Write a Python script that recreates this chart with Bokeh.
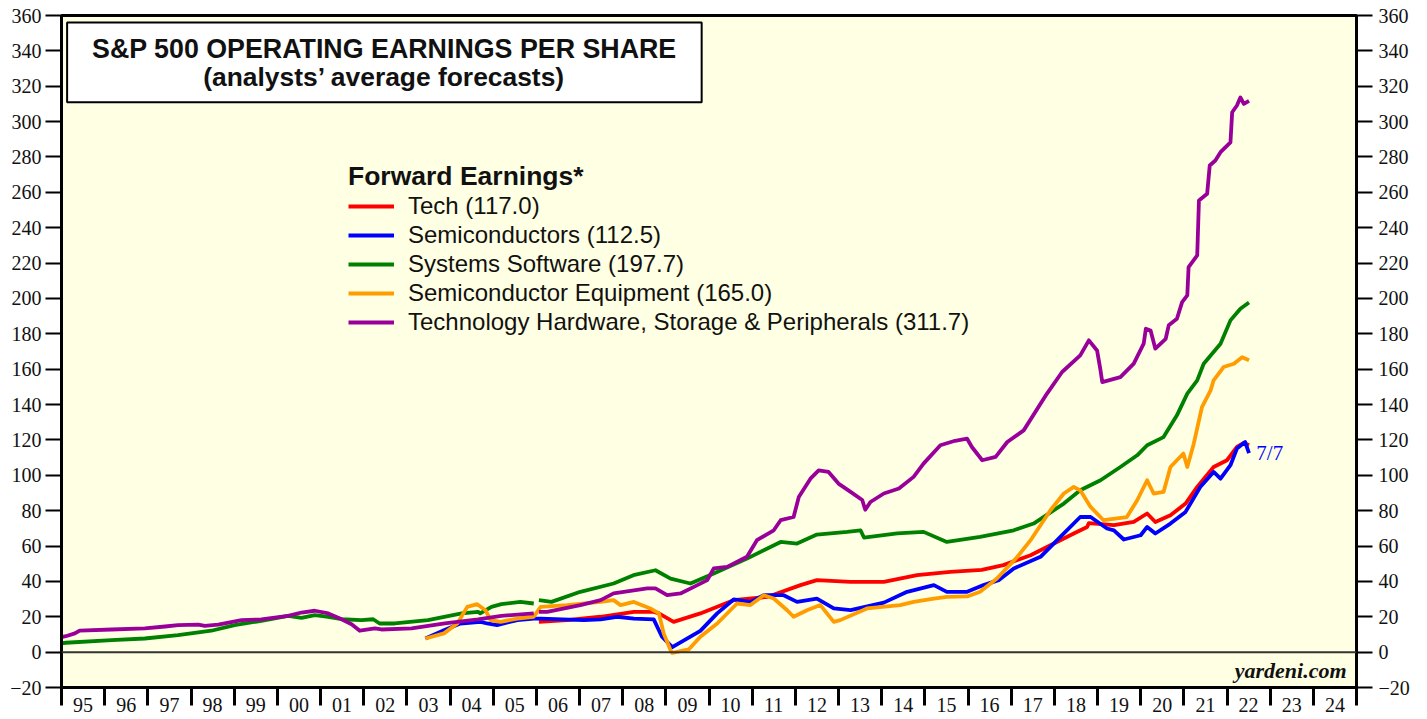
from bokeh.plotting import figure
from bokeh.models import (Range1d, LinearAxis, FixedTicker, Span, BoxAnnotation,
                          Label, Legend, LegendItem)
from bokeh.embed import file_html
from bokeh.resources import INLINE

nan = float("nan")

# ---------------- data ----------------
year_labels = ["95", "96", "97", "98", "99", "00", "01", "02", "03", "04", "05", "06",
               "07", "08", "09", "10", "11", "12", "13", "14", "15", "16", "17", "18",
               "19", "20", "21", "22", "23", "24"]
y_ticks = [-20, 0, 20, 40, 60, 80, 100, 120, 140, 160, 180, 200, 220, 240, 260, 280,
           300, 320, 340, 360]

hw_x = [1995.00, 1995.10, 1995.31, 1995.42, 1996.16, 1996.93, 1997.40, 1997.70, 1998.17,
        1998.32, 1998.63, 1999.17, 1999.63, 2000.25, 2000.56, 2000.87, 2001.18, 2001.49,
        2001.72, 2001.91, 2002.26, 2002.41, 2003.11, 2003.88, 2004.65, 2005.19, 2005.94,
        nan, 2006.06, 2006.25, 2007.02, 2007.49, 2007.79, 2008.57, 2008.76, 2009.03,
        2009.34, 2009.65, 2009.96, 2010.11, 2010.42, 2010.88, 2011.11, 2011.50, 2011.66,
        2011.96, 2012.08, 2012.35, 2012.54, 2012.77, 2013.00, 2013.28, 2013.55, 2013.62,
        2013.74, 2014.05, 2014.40, 2014.74, 2014.97, 2015.36, 2015.70, 2015.98, 2016.09,
        2016.33, 2016.64, 2016.91, 2017.29, 2017.83, 2018.18, 2018.60, 2018.80, 2018.99,
        2019.07, 2019.11, 2019.53, 2019.84, 2020.07, 2020.12, 2020.23, 2020.34, 2020.58,
        2020.65, 2020.84, 2020.96, 2021.08, 2021.11, 2021.31, 2021.35, 2021.54, 2021.60,
        2021.73, 2021.85, 2022.08, 2022.12, 2022.23, 2022.31, 2022.39, 2022.51]
hw_y = [8.5, 9.0, 10.6, 12.2, 12.8, 13.4, 14.5, 15.3, 15.6,
        14.9, 15.6, 18.1, 18.5, 20.5, 22.4, 23.4, 21.9, 18.6,
        15.8, 12.1, 13.4, 12.8, 13.4, 16.2, 18.5, 20.5, 21.9,
        nan, 22.8, 22.8, 26.6, 29.4, 33.2, 36.0, 36.0, 32.2,
        33.2, 36.9, 40.7, 47.3, 48.2, 53.9, 63.3, 68.9, 74.6,
        76.4, 87.7, 98.1, 102.8, 101.9, 95.3, 90.6, 86.0, 80.5,
        84.9, 89.7, 92.5, 99.1, 106.6, 117.0, 119.5, 120.7, 116.0,
        108.5, 110.4, 118.8, 125.4, 146.2, 158.4, 167.8, 176.3, 170.6,
        159.3, 152.7, 155.5, 163.1, 174.4, 182.9, 181.9, 171.6, 177.2,
        184.8, 188.5, 197.9, 201.7, 217.7, 224.3, 255.4, 259.2, 275.2,
        278.0, 282.7, 288.3, 305.3, 309.1, 313.7, 310.0, 311.7]

sw_x = [1995.00, 1995.10, 1996.16, 1996.93, 1997.70, 1998.47, 1999.01, 1999.63, 2000.25,
        2000.56, 2000.87, 2001.18, 2001.49, 2001.95, 2002.22, 2002.37, 2002.72, 2003.49,
        2004.27, 2004.65, 2004.70, 2004.96, 2005.19, 2005.63, 2005.94, nan, 2006.06,
        2006.35, 2007.02, 2007.79, 2008.25, 2008.76, 2009.11, 2009.57, 2010.11, 2010.88,
        2011.66, 2012.04, 2012.50, 2013.20, 2013.51, 2013.59, 2014.36, 2014.97, 2015.51,
        2016.28, 2017.06, 2017.52, 2018.22, 2018.60, 2019.07, 2019.53, 2019.92, 2020.15,
        2020.53, 2020.84, 2021.08, 2021.31, 2021.46, 2021.85, 2022.08, 2022.31, 2022.51]
sw_y = [5.0, 5.3, 6.8, 7.7, 9.6, 12.1, 15.3, 17.7, 20.5,
        19.4, 20.9, 20.0, 18.6, 18.1, 18.6, 16.2, 16.2, 18.1,
        21.9, 22.8, 21.9, 25.6, 27.1, 28.4, 27.5, nan, 29.4,
        28.4, 34.1, 38.8, 43.5, 46.3, 41.6, 38.8, 44.5, 52.9,
        62.3, 61.4, 66.5, 68.0, 68.9, 64.8, 67.1, 68.0, 62.3,
        65.2, 68.9, 72.7, 84.0, 91.5, 97.2, 104.7, 111.3, 117.0,
        121.6, 133.9, 146.2, 153.7, 163.1, 174.4, 187.6, 194.2, 197.7]

eq_x = [2003.43, 2003.86, 2004.17, 2004.40, 2004.63, 2004.82, 2004.94, 2005.17, 2005.56,
        2005.94, 2006.10, 2006.71, 2007.49, 2007.79, 2007.95, 2008.26, 2008.64, 2008.84,
        2008.95, 2009.11, 2009.15, 2009.53, 2009.80, 2010.19, 2010.65, 2010.96, 2011.27,
        2011.50, 2011.81, 2011.96, 2012.27, 2012.58, 2012.89, 2013.04, 2013.66, 2014.43,
        2014.74, 2015.21, 2015.51, 2015.98, 2016.28, 2016.67, 2017.14, 2017.45, 2017.91,
        2018.22, 2018.45, 2018.60, 2018.84, 2019.14, 2019.68, 2019.92, 2020.15, 2020.30,
        2020.53, 2020.69, 2020.99, 2021.08, 2021.23, 2021.42, 2021.62, 2021.69, 2021.92,
        2022.16, 2022.35, 2022.51]
eq_y = [7.7, 10.6, 16.2, 25.6, 27.1, 23.7, 18.1, 17.1, 19.0,
        20.0, 25.6, 26.6, 28.4, 29.4, 26.6, 28.4, 24.7, 21.9,
        10.6, 1.1, -0.4, 1.5, 8.7, 16.2, 27.5, 26.6, 32.2,
        30.3, 23.7, 20.0, 23.7, 26.6, 17.1, 18.1, 24.7, 26.6,
        28.4, 30.3, 31.2, 31.5, 34.1, 41.6, 53.8, 63.3, 80.2,
        89.7, 93.4, 91.5, 82.1, 74.6, 76.4, 85.9, 97.2, 89.7,
        90.6, 104.7, 112.3, 104.7, 117.9, 138.6, 148.0, 153.7, 161.2,
        163.1, 166.8, 165.0]

tech_x = [2006.06, 2006.71, 2007.49, 2008.26, 2008.72, 2008.84, 2009.18, 2009.80, 2010.57,
          2011.35, 2012.12, 2012.50, 2013.28, 2014.05, 2014.82, 2015.59, 2016.32, 2016.82,
          2017.45, 2017.99, 2018.45, 2018.76, 2018.80, 2019.38, 2019.84, 2020.15, 2020.34,
          2020.69, 2021.04, 2021.31, 2021.69, 2022.00, 2022.23, 2022.39, 2022.51]
tech_y = [17.1, 18.1, 20.0, 22.8, 22.8, 21.9, 17.1, 21.9, 29.4,
          31.2, 37.9, 40.7, 39.7, 39.7, 43.5, 45.4, 46.5, 49.2,
          54.8, 61.4, 67.1, 70.8, 73.0, 71.8, 73.6, 78.4, 73.6,
          77.4, 84.0, 93.4, 104.7, 108.5, 116.0, 118.3, 117.0]

semi_x = [2003.43, 2003.86, 2004.24, 2004.71, 2004.86, 2005.09, 2005.56, 2005.94, 2006.10,
          2007.10, 2007.49, 2007.87, 2008.26, 2008.72, 2008.91, 2009.15, 2009.80, 2010.19,
          2010.57, 2010.96, 2011.27, 2011.73, 2012.04, 2012.50, 2012.89, 2013.28, 2014.05,
          2014.59, 2015.21, 2015.51, 2015.98, 2016.36, 2016.71, 2017.06, 2017.68, 2018.14,
          2018.60, 2018.84, 2019.22, 2019.38, 2019.61, 2020.00, 2020.15, 2020.34, 2020.69,
          2021.04, 2021.38, 2021.69, 2021.85, 2022.08, 2022.23, 2022.42, 2022.51]
semi_y = [7.7, 12.4, 16.2, 17.1, 16.2, 15.3, 18.1, 19.0, 19.0,
          18.1, 18.5, 20.0, 19.0, 18.5, 8.7, 2.8, 12.0, 21.9,
          29.8, 28.4, 32.2, 32.2, 28.4, 30.3, 24.7, 23.7, 28.0,
          34.1, 37.9, 34.1, 34.1, 37.9, 40.7, 47.3, 53.9, 65.2,
          76.4, 76.4, 69.9, 68.9, 63.7, 66.1, 70.8, 67.1, 72.7,
          79.3, 93.4, 101.9, 98.1, 105.7, 115.1, 118.8, 112.5]

series_names = ["Tech (117.0)", "Semiconductors (112.5)", "Systems Software (197.7)",
                "Semiconductor Equipment (165.0)",
                "Technology Hardware, Storage & Peripherals (311.7)"]
series_colors = ["#FF0000", "#0000FF", "#008000", "#FF9C00", "#990099"]

# ---------------- figure ----------------
p = figure(width=1424, height=719, x_range=Range1d(1995, 2025), y_range=Range1d(-20, 360),
           output_backend="svg", toolbar_location=None,
           x_axis_location=None, y_axis_location=None,
           min_border_left=61, min_border_right=68, min_border_top=15, min_border_bottom=32)
p.background_fill_color = "#FFFFE3"
p.border_fill_color = "white"
p.outline_line_color = "black"
p.outline_line_width = 3
p.grid.visible = False

for loc, standoff in (("left", 4), ("right", 6)):
    ax = LinearAxis(ticker=FixedTicker(ticks=y_ticks, minor_ticks=[]),
                    major_tick_out=16, major_tick_in=0, minor_tick_out=0, minor_tick_in=0,
                    major_tick_line_width=2, major_tick_line_color="black",
                    axis_line_width=3, axis_line_color="black",
                    major_label_text_font="Liberation Serif",
                    major_label_text_font_size="20px",
                    major_label_text_color="#111111",
                    major_label_standoff=standoff)
    p.add_layout(ax, loc)

mids = [1995.5 + i for i in range(len(year_labels))]
bounds = [1995 + i for i in range(len(year_labels) + 1)]
xax = LinearAxis(ticker=FixedTicker(ticks=mids, minor_ticks=bounds),
                 major_label_overrides={m: lab for m, lab in zip(mids, year_labels)},
                 major_tick_out=0, major_tick_in=0,
                 minor_tick_out=18, minor_tick_in=0, minor_tick_line_width=3,
                 minor_tick_line_color="black",
                 axis_line_width=3, axis_line_color="black",
                 major_label_text_font="Liberation Serif",
                 major_label_text_font_size="20px",
                 major_label_text_color="#111111",
                 major_label_standoff=-8)
p.add_layout(xax, "below")

p.add_layout(Span(location=0, dimension="width", line_color="#333333", line_width=2))

renderers = []
for xs, ys, col in [(tech_x, tech_y, series_colors[0]), (semi_x, semi_y, series_colors[1]),
                    (sw_x, sw_y, series_colors[2]), (eq_x, eq_y, series_colors[3]),
                    (hw_x, hw_y, series_colors[4])]:
    r = p.line(xs, ys, line_color=col, line_width=3.8, line_join="round")
    renderers.append(r)

legend = Legend(items=[LegendItem(label=n, renderers=[r]) for n, r in zip(series_names, renderers)],
                location=(287, 351),
                title="Forward Earnings*",
                title_text_font="Liberation Sans", title_text_font_style="bold",
                title_text_font_size="26.5px", title_text_color="#111111",
                title_standoff=-3,
                label_text_font="Liberation Sans", label_text_font_size="24px",
                label_text_color="#111111",
                glyph_width=46, glyph_height=20, label_height=20, label_standoff=14,
                spacing=1, padding=0, margin=0,
                border_line_color=None, background_fill_alpha=0)
p.add_layout(legend, "center")

# title box
p.add_layout(BoxAnnotation(left=1995.13, right=2009.83, top=356.1, bottom=310.9,
                           fill_color="white", fill_alpha=1.0,
                           line_color="black", line_alpha=1.0, line_width=2))
p.add_layout(Label(x=2002.48, y=341.3, text="S&P 500 OPERATING EARNINGS PER SHARE",
                   text_align="center", text_baseline="middle",
                   text_font="Liberation Sans", text_font_style="bold",
                   text_font_size="26.8px", text_color="#111111"))
p.add_layout(Label(x=2002.48, y=325.4, text="(analysts’ average forecasts)",
                   text_align="center", text_baseline="middle",
                   text_font="Liberation Sans", text_font_style="bold",
                   text_font_size="26.4px", text_color="#111111"))

p.add_layout(Label(x=2024.77, y=-10.2, text="yardeni.com",
                   text_align="right", text_baseline="middle",
                   text_font="Liberation Serif", text_font_style="bold italic",
                   text_font_size="22px", text_color="#111111"))
p.add_layout(Label(x=2022.68, y=112.5, text="7/7",
                   text_align="left", text_baseline="middle",
                   text_font="Liberation Serif", text_font_size="21px",
                   text_color="#0000FF"))

open("out.html", "w").write(file_html(p, INLINE))
